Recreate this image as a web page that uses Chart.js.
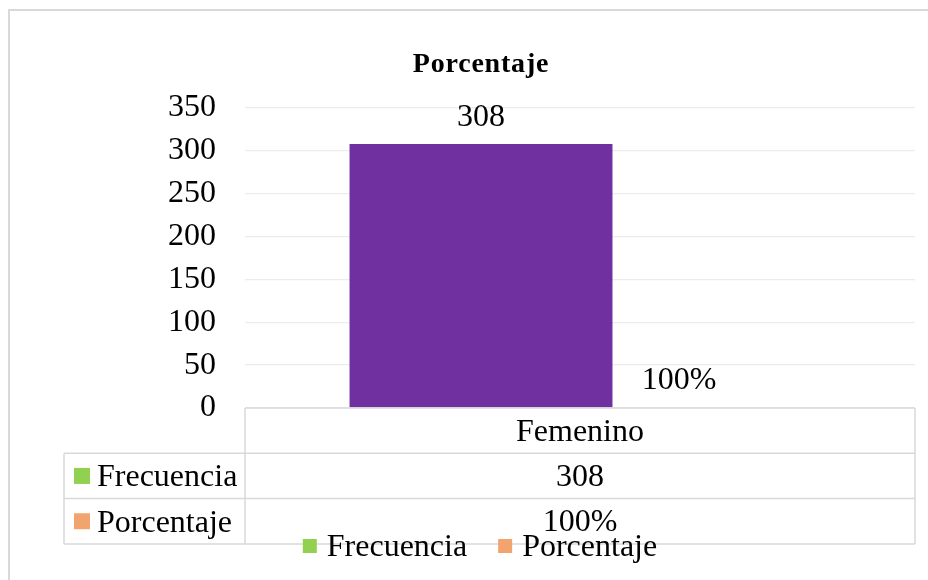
<!DOCTYPE html>
<html>
<head>
<meta charset="utf-8">
<script src="https://cdn.jsdelivr.net/npm/chart.js@4.4.1/dist/chart.umd.min.js"></script>
<style>
  html, body { margin: 0; background: #fff; }
  #wrap { width: 928px; height: 580px; }
</style>
</head>
<body>
<div id="wrap"><canvas id="chart" width="928" height="580"></canvas></div>
<script>
const categories = ["Femenino"];
const seriesNames = ["Frecuencia", "Porcentaje"];
const frecuencia = [308];
const porcentaje = [1];
const porcentajeLabels = ["100%"];
const yMax = 350;
const yStep = 50;
const chartTitle = "Porcentaje";

const barColors = ["#7030A0", "#F2A46E"];
const legendColors = ["#92D050", "#F2A46E"];
const FONT = "'Liberation Serif', 'Times New Roman', serif";
const LINE = "#d9d9d9";

const valueText = (ds, i) => (ds === 0 ? String(frecuencia[i]) : porcentajeLabels[i]);

const extras = {
  id: "extras",
  beforeDraw(chart) {
    const { ctx, width, height } = chart;
    ctx.save();
    ctx.fillStyle = "#fff";
    ctx.fillRect(0, 0, width, height);
    ctx.strokeStyle = LINE;
    ctx.lineWidth = 2;
    ctx.beginPath();
    ctx.moveTo(9, height);
    ctx.lineTo(9, 10);
    ctx.lineTo(width, 10);
    ctx.stroke();
    ctx.restore();
  },
  afterDatasetsDraw(chart) {
    const { ctx } = chart;
    ctx.save();
    ctx.font = `32px ${FONT}`;
    ctx.fillStyle = "#000";
    ctx.textAlign = "center";
    ctx.textBaseline = "alphabetic";
    chart.data.datasets.forEach((d, di) => {
      chart.getDatasetMeta(di).data.forEach((bar, i) => {
        ctx.fillText(valueText(di, i), bar.x, bar.y - 18);
      });
    });
    ctx.restore();
  },
  afterDraw(chart) {
    const { ctx, chartArea } = chart;
    const xs = chart.scales.x;
    const left = 64;
    const top = chartArea.bottom;
    const rowH = 45.3;
    const right = chartArea.right;
    const colLeft = chartArea.left;
    ctx.save();

    // title
    ctx.font = `bold 28px ${FONT}`;
    ctx.letterSpacing = "0.8px";
    ctx.fillStyle = "#000";
    ctx.textAlign = "center";
    ctx.textBaseline = "alphabetic";
    ctx.fillText(chartTitle, 481, 72);
    ctx.letterSpacing = "0px";

    // data table grid
    ctx.strokeStyle = LINE;
    ctx.lineWidth = 1.5;
    ctx.beginPath();
    ctx.moveTo(colLeft, top);
    ctx.lineTo(right, top);
    for (let r = 1; r <= 3; r++) {
      ctx.moveTo(left, top + rowH * r);
      ctx.lineTo(right, top + rowH * r);
    }
    ctx.moveTo(colLeft, top);
    ctx.lineTo(colLeft, top + rowH * 3);
    ctx.moveTo(right, top);
    ctx.lineTo(right, top + rowH * 3);
    ctx.moveTo(left, top + rowH);
    ctx.lineTo(left, top + rowH * 3);
    const step = (right - colLeft) / categories.length;
    for (let i = 1; i < categories.length; i++) {
      ctx.moveTo(colLeft + step * i, top);
      ctx.lineTo(colLeft + step * i, top + rowH * 3);
    }
    ctx.stroke();

    // table text
    ctx.font = `32px ${FONT}`;
    ctx.fillStyle = "#000";
    ctx.textBaseline = "middle";
    ctx.textAlign = "center";
    categories.forEach((c, i) => {
      const x = xs.getPixelForTick(i);
      ctx.fillText(c, x, top + rowH * 0.5 + 2);
      ctx.fillText(valueText(0, i), x, top + rowH * 1.5 + 2);
      ctx.fillText(valueText(1, i), x, top + rowH * 2.5 + 1);
    });
    ctx.textAlign = "left";
    seriesNames.forEach((name, s) => {
      const cy = top + rowH * (s + 1.5);
      ctx.fillStyle = legendColors[s];
      ctx.fillRect(74, cy - 8, 16, 16);
      ctx.fillStyle = "#000";
      ctx.fillText(name, 97, cy + 2);
    });

    // legend
    const ly = 546;
    const box = 14;
    const gap = 10;
    const itemGap = 31;
    const widths = seriesNames.map((n) => ctx.measureText(n).width);
    const total = widths.reduce((a, w) => a + box + gap + w, 0) + itemGap * (seriesNames.length - 1);
    let x = 480 - total / 2;
    seriesNames.forEach((name, s) => {
      ctx.fillStyle = legendColors[s];
      ctx.fillRect(x, ly - box / 2, box, box);
      ctx.fillStyle = "#000";
      ctx.fillText(name, x + box + gap, ly + 2);
      x += box + gap + widths[s] + itemGap;
    });
    ctx.restore();
  },
};

new Chart(document.getElementById("chart"), {
  type: "bar",
  data: {
    labels: categories,
    datasets: [
      { label: seriesNames[0], data: frecuencia, backgroundColor: barColors[0] },
      { label: seriesNames[1], data: porcentaje, backgroundColor: barColors[1] },
    ],
  },
  options: {
    responsive: false,
    animation: false,
    categoryPercentage: 0.591,
    barPercentage: 1.328,
    layout: { padding: { left: 0, right: 13, top: 108, bottom: 172 } },
    plugins: { legend: { display: false }, title: { display: false }, tooltip: { enabled: false } },
    scales: {
      x: { display: false },
      y: {
        min: 0,
        max: yMax,
        ticks: { stepSize: yStep, padding: 29, color: "#000", font: { family: FONT, size: 32 } },
        grid: { color: "#ececec", lineWidth: 1.3, drawTicks: false },
        border: { display: false },
        afterFit(scale) {
          scale.width = 245;
        },
      },
    },
  },
  plugins: [extras],
});
</script>
</body>
</html>
